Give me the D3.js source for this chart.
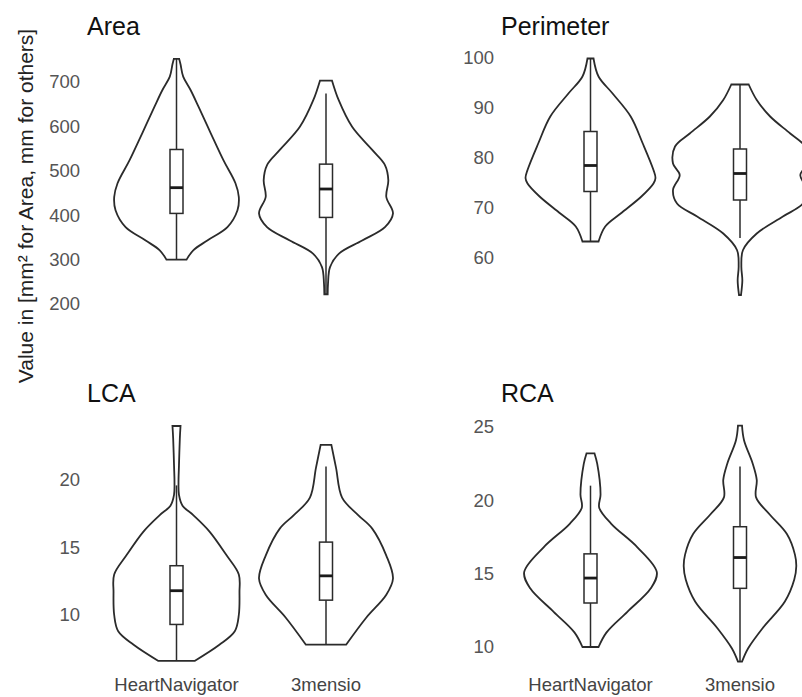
<!DOCTYPE html>
<html>
<head>
<meta charset="utf-8">
<script src="https://cdn.jsdelivr.net/npm/d3@7"></script>
<style>
  body { margin: 0; background: #fff; }
  #chart { width: 802px; height: 697px; }
  text { font-family: "Liberation Sans", Arial, sans-serif; }
</style>
</head>
<body>
<div id="chart"></div>
<script>

const groups = ["HeartNavigator", "3mensio"];
const panelTitles = ["Area", "Perimeter", "LCA", "RCA"];
const yLabel = "Value in [mm\u00b2 for Area, mm for others]";

// tick labels per panel
const areaTicks = [200, 300, 400, 500, 600, 700];
const perimeterTicks = [60, 70, 80, 90, 100];
const lcaTicks = [10, 15, 20];
const rcaTicks = [10, 15, 20, 25];

// violin outlines: [value, relative density]
const areaHN = [[752,.04],[740,.06],[712,.10],[682,.21],[644,.33],[585,.51],[524,.70],[472,.88],[441,.93],[411,.91],[373,.76],[343,.46],[321,.25],[300,.15]];
const area3m = [[703,.09],[659,.19],[599,.39],[547,.69],[513,.88],[479,.93],[441,.90],[404,1.0],[373,.88],[343,.54],[313,.19],[283,.06],[246,.03],[222,.025]];
const perimHN = [[99.9,.045],[96.3,.12],[92.9,.33],[88.3,.60],[82.9,.78],[77.6,.94],[76,.97],[74.9,.94],[72.3,.76],[68.9,.45],[66.3,.22],[63.3,.12]];
const perim3m = [[94.7,.13],[91.6,.25],[88.3,.45],[84.9,.75],[82.3,.97],[78.9,1.0],[76.6,.90],[73.6,1.0],[70.9,.94],[68.3,.64],[64.9,.25],[61.6,.045],[58.3,.02],[55.5,.035],[52.6,.015]];
const lcaHN = [[24.0,.06],[23.1,.05],[21.1,.037],[19.8,.03],[18.9,.037],[18.1,.09],[17.4,.25],[16.2,.49],[14.4,.75],[13.0,.93],[11.7,.94],[10,.93],[8.8,.87],[7.8,.64],[6.6,.27]];
const lca3m = [[22.6,.08],[20.9,.15],[18.7,.24],[17.4,.48],[16.4,.69],[14.4,.90],[12.7,1.0],[11.5,.90],[9.8,.60],[7.8,.30]];
const rcaHN = [[23.2,.06],[22.5,.10],[20.4,.15],[19.5,.13],[18.4,.31],[16.8,.70],[15.1,.99],[14.0,.90],[12.4,.55],[11.0,.24],[10.0,.12]];
const rca3m = [[25.1,.03],[24.1,.06],[22.5,.19],[21.4,.25],[20.2,.24],[19.0,.45],[17.7,.70],[16.3,.82],[15.5,.84],[14.6,.81],[13.1,.67],[11.3,.34],[9.9,.12],[9.0,.03]];

// box stats: [lower whisker, q1, median, q3, upper whisker]
const areaBoxes = [[300, 404, 462, 548, 752], [222, 395, 459, 515, 674]];
const perimBoxes = [[63.3, 73.3, 78.5, 85.3, 99.9], [64, 71.6, 76.9, 81.8, 94.7]];
const lcaBoxes = [[6.6, 9.3, 11.8, 13.65, 19.6], [7.8, 11.1, 12.9, 15.4, 21.0]];
const rcaBoxes = [[10, 13.0, 14.7, 16.35, 21.0], [9.0, 14.0, 16.1, 18.2, 22.3]];

const width = 802;
const height = 697;

const svg = d3.select("#chart")
    .append("svg")
    .attr("width", width)
    .attr("height", height);

/* panel layout: y domain -> pixel range, x range of the two violins */
const panels = [
    {title: panelTitles[0], ticks: areaTicks, violins: [areaHN, area3m], boxes: areaBoxes,
     domain: [200, 700], range: [304, 82], xr: [176.5, 326], left: 80, titleX: 87, titleY: 35, xlab: false},
    {title: panelTitles[1], ticks: perimeterTicks, violins: [perimHN, perim3m], boxes: perimBoxes,
     domain: [60, 100], range: [258, 58], xr: [590.5, 740], left: 494, titleX: 501, titleY: 35, xlab: false},
    {title: panelTitles[2], ticks: lcaTicks, violins: [lcaHN, lca3m], boxes: lcaBoxes,
     domain: [10, 20], range: [615, 480], xr: [176.5, 326], left: 80, titleX: 87, titleY: 402, xlab: true},
    {title: panelTitles[3], ticks: rcaTicks, violins: [rcaHN, rca3m], boxes: rcaBoxes,
     domain: [10, 25], range: [647, 427], xr: [590.5, 740], left: 494, titleX: 501, titleY: 402, xlab: true}
];

const wScale = d3.scaleLinear().domain([0, 1]).range([0, 67]);
const boxHalf = 6.5;
const ink = "#2b2b2b";

panels.forEach(function(p) {

    const yScale = d3.scaleLinear().domain(p.domain).range(p.range);
    const xScale = d3.scalePoint().domain(groups).range(p.xr);

    // y axis: labels only, no line or ticks
    const yAxis = svg.append("g")
        .attr("class", "axis")
        .attr("transform", `translate(${p.left},0)`)
        .call(d3.axisLeft(yScale).tickValues(p.ticks).tickSize(0).tickPadding(0));
    yAxis.select(".domain").remove();
    yAxis.selectAll("text")
        .attr("fill", "#555")
        .style("font-size", "18.5px")
        .style("font-family", "'Liberation Sans', Arial, sans-serif");

    svg.append("text")
        .attr("x", p.titleX)
        .attr("y", p.titleY)
        .attr("fill", "#111")
        .style("font-size", "25px")
        .text(p.title);

    groups.forEach(function(g, i) {
        const cx = xScale(g);
        const area = d3.area()
            .y(function(d) { return yScale(d[0]); })
            .x0(function(d) { return cx - wScale(d[1]); })
            .x1(function(d) { return cx + wScale(d[1]); })
            .curve(d3.curveCatmullRom);

        svg.append("path")
            .datum(p.violins[i])
            .attr("d", area)
            .attr("fill", "white")
            .attr("stroke", ink)
            .attr("stroke-width", 1.8);

        const b = p.boxes[i];
        // whisker
        svg.append("line")
            .attr("x1", cx).attr("x2", cx)
            .attr("y1", yScale(b[0])).attr("y2", yScale(b[4]))
            .attr("stroke", ink)
            .attr("stroke-width", 1.5);
        // box
        svg.append("rect")
            .attr("x", cx - boxHalf)
            .attr("y", yScale(b[3]))
            .attr("width", boxHalf * 2)
            .attr("height", yScale(b[1]) - yScale(b[3]))
            .attr("fill", "white")
            .attr("stroke", ink)
            .attr("stroke-width", 1.5);
        // median
        svg.append("line")
            .attr("x1", cx - boxHalf).attr("x2", cx + boxHalf)
            .attr("y1", yScale(b[2])).attr("y2", yScale(b[2]))
            .attr("stroke", "#1a1a1a")
            .attr("stroke-width", 2.8);

        if (p.xlab) {
            svg.append("text")
                .attr("x", cx)
                .attr("y", 691)
                .attr("text-anchor", "middle")
                .attr("fill", "#444")
                .style("font-size", "18.5px")
                .text(g);
        }
    });
});

/* shared y label */
svg.append("text")
    .attr("transform", "translate(33,206) rotate(-90)")
    .attr("text-anchor", "middle")
    .attr("fill", "#222")
    .style("font-size", "21px")
    .text(yLabel);

</script>
</body>
</html>
